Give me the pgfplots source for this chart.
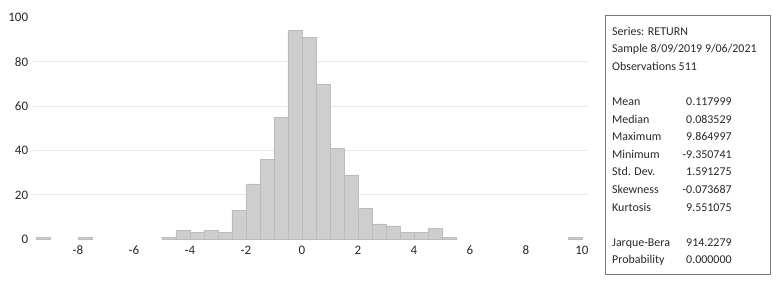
\documentclass[border=0pt]{standalone}
\usepackage{fontspec}
\setmainfont{Carlito}
\usepackage{pgfplots}
\pgfplotsset{compat=1.18}
\definecolor{barfill}{RGB}{206,206,206}
\definecolor{baredge}{RGB}{188,188,188}
\definecolor{gridc}{RGB}{232,232,232}
\definecolor{txt}{RGB}{40,40,40}
\definecolor{boxc}{RGB}{120,120,120}
\begin{document}
\begin{tikzpicture}[x=1bp,y=1bp]
\useasboundingbox (0,0) rectangle (780,284);
\begin{axis}[
  at={(33bp,44.7bp)}, anchor=south west,
  scale only axis, width=554.4bp, height=222bp,
  xmin=-9.6, xmax=10.2, ymin=0, ymax=100,
  axis line style={draw=none},
  major tick length=0pt,
  xtick={-8,-6,...,10}, ytick={0,20,...,100},
  extra y ticks={20,40,60,80}, extra y tick labels={},
  extra y tick style={ymajorgrids=true, grid style={color=gridc, line width=0.9pt}},
  /pgf/number format/assume math mode=true,
  ticklabel style={font=\fontsize{13}{15}\selectfont, text=txt},
  xticklabel style={yshift=-3bp},
  yticklabel style={xshift=-1.4bp},
  ybar, bar width=0.5,
]
\addplot[fill=barfill, draw=baredge, line width=0.5pt] coordinates {
(-9.25,1) (-7.75,1) (-4.75,1) (-4.25,4) (-3.75,3) (-3.25,4) (-2.75,3)
(-2.25,13) (-1.75,25) (-1.25,36) (-0.75,55) (-0.25,94) (0.25,91) (0.75,70)
(1.25,41) (1.75,29) (2.25,14) (2.75,7) (3.25,6) (3.75,3) (4.25,3) (4.75,5)
(5.25,1) (9.75,1)
};
\end{axis}
\draw[boxc, line width=0.8pt] (605,268.3) rectangle (770,9.7);
\begin{scope}[every node/.style={anchor=base west, inner sep=0pt, text=txt, font=\fontsize{12}{14}\selectfont}]
\node at (612,{284-35}) {Series: RETURN};
\node at (612,{284-52.6}) {Sample 8/09/2019 9/06/2021};
\node at (612,{284-70.2}) {Observations 511};
\node at (612,{284-105.4}) {Mean};
\node at (612,{284-123}) {Median};
\node at (612,{284-140.6}) {Maximum};
\node at (612,{284-158.2}) {Minimum};
\node at (612,{284-175.8}) {Std. Dev.};
\node at (612,{284-193.4}) {Skewness};
\node at (612,{284-211}) {Kurtosis};
\node at (612,{284-246.2}) {Jarque-Bera};
\node at (612,{284-263.8}) {Probability};
\node at (686,{284-105.4}) {0.117999};
\node at (686,{284-123}) {0.083529};
\node at (686,{284-140.6}) {9.864997};
\node at (686,{284-158.2}) {\llap{-}9.350741};
\node at (686,{284-175.8}) {1.591275};
\node at (686,{284-193.4}) {\llap{-}0.073687};
\node at (686,{284-211}) {9.551075};
\node at (686,{284-246.2}) {914.2279};
\node at (686,{284-263.8}) {0.000000};
\end{scope}
\end{tikzpicture}
\end{document}
